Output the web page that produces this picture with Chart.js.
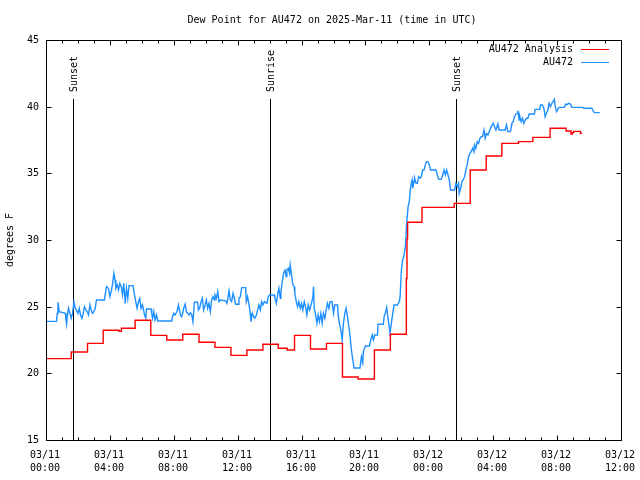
<!DOCTYPE html>
<html>
<head>
<meta charset="utf-8">
<title>Dew Point for AU472</title>
<script src="https://cdn.jsdelivr.net/npm/chart.js@4.4.1/dist/chart.umd.min.js"></script>
<style>
  html, body { margin: 0; padding: 0; background: #fff; }
  #wrap { width: 640px; height: 480px; }
</style>
</head>
<body>
<div id="wrap"><canvas id="dewChart" width="640" height="480"></canvas></div>
<script>
const chartTitle = "Dew Point for AU472 on 2025-Mar-11 (time in UTC)";
const yAxisLabel = "degrees F";

// x values are hours since 2025-03-11 00:00 UTC
const xTickHours = [0, 4, 8, 12, 16, 20, 24, 28, 32, 36];
const xTickDates = ["03/11", "03/11", "03/11", "03/11", "03/11", "03/11", "03/12", "03/12", "03/12", "03/12"];
const xTickTimes = ["00:00", "04:00", "08:00", "12:00", "16:00", "20:00", "00:00", "04:00", "08:00", "12:00"];
const yTickValues = [15, 20, 25, 30, 35, 40, 45];

const sunEventHours = [1.69, 14.02, 25.67];
const sunEventLabels = ["Sunset", "Sunrise", "Sunset"];

// hourly analysis (value holds from the given hour)
const analysisHours = [0, 1.58, 2.6, 3.58, 4.58, 4.72, 5.58, 6.56, 7.56, 8.56, 9.58, 10.58, 11.58, 12.58, 13.58,
  14.54, 15.1, 15.56, 16.56, 17.56, 18.56, 19.54, 20.56, 21.56, 22.56, 22.6, 22.64, 23.54, 25.56, 26.56,
  27.56, 28.54, 29.58, 30.48, 31.56, 32.56, 32.87, 32.95, 33.04, 33.46, 33.56];
const analysisValues = [21.1, 21.6, 22.25, 23.23, 23.15, 23.38, 23.98, 22.85, 22.5, 22.93, 22.33, 21.95, 21.35, 21.75, 22.18,
  21.88, 21.75, 22.85, 21.83, 22.25, 19.73, 19.58, 21.75, 22.93, 27.1, 30.1, 31.33, 32.45, 32.75, 35.25,
  36.3, 37.25, 37.38, 37.7, 38.38, 38.18, 37.95, 38.05, 38.15, 38.0, 38.0];

// station observations
const obsHours = [
  0, 0.66, 0.7, 0.75, 0.83, 1.21, 1.25, 1.29, 1.33, 1.41, 1.5, 1.58, 1.66, 1.75, 1.83, 1.91, 2.0, 2.08, 2.16, 2.25,
  2.33, 2.41, 2.5, 2.58, 2.66, 2.75, 2.83, 2.91, 3.0, 3.08, 3.16, 3.66, 3.7, 3.79, 3.91, 4.0, 4.08, 4.16, 4.25, 4.33,
  4.37, 4.46, 4.54, 4.62, 4.71, 4.79, 4.87, 4.96, 5.04, 5.12, 5.2, 5.45, 5.54, 5.62, 5.7, 5.79, 5.87, 5.95, 6.04, 6.17,
  6.25, 6.29, 6.58, 6.62, 6.67, 6.75, 6.83, 6.92, 7.0, 7.87, 7.92, 8.0, 8.08, 8.2, 8.29, 8.33, 8.42, 8.5, 8.54, 8.62,
  8.71, 8.79, 8.87, 8.96, 9.04, 9.12, 9.2, 9.25, 9.29, 9.5, 9.54, 9.62, 9.71, 9.79, 9.87, 9.96, 10.04, 10.12, 10.2, 10.29,
  10.37, 10.45, 10.54, 10.58, 10.67, 10.75, 10.83, 10.92, 11.25, 11.33, 11.46, 11.54, 11.62, 11.71, 11.79, 11.87, 12.04, 12.08, 12.17, 12.25,
  12.5, 12.54, 12.62, 12.71, 12.79, 12.83, 12.92, 13.0, 13.08, 13.17, 13.25, 13.33, 13.42, 13.5, 13.58, 13.67, 13.83, 13.92, 14.0, 14.29,
  14.33, 14.42, 14.5, 14.58, 14.67, 14.71, 14.79, 14.87, 14.96, 15.04, 15.08, 15.17, 15.25, 15.29, 15.37, 15.46, 15.54, 15.58, 15.67, 15.75,
  15.83, 15.92, 16.0, 16.08, 16.17, 16.25, 16.33, 16.42, 16.5, 16.62, 16.71, 16.75, 16.79, 16.87, 16.96, 17.04, 17.12, 17.21, 17.29, 17.37,
  17.46, 17.54, 17.62, 17.71, 17.79, 17.91, 18.0, 18.08, 18.25, 18.29, 18.37, 18.46, 18.54, 18.62, 18.71, 18.79, 18.87, 18.96, 19.04, 19.12,
  19.21, 19.29, 19.66, 19.75, 19.83, 19.87, 20.0, 20.25, 20.33, 20.42, 20.5, 20.58, 20.75, 20.79, 21.12, 21.17, 21.25, 21.33, 21.37, 21.46,
  21.54, 21.62, 21.71, 21.79, 22.0, 22.12, 22.17, 22.25, 22.33, 22.42, 22.5, 22.58, 22.67, 22.75, 22.79, 22.87, 22.92, 22.96, 23.04, 23.08,
  23.17, 23.25, 23.33, 23.42, 23.5, 23.58, 23.67, 23.75, 23.83, 23.92, 24.0, 24.08, 24.42, 24.5, 24.58, 24.75, 24.83, 24.92, 25.0, 25.08,
  25.17, 25.25, 25.33, 25.58, 25.67, 25.75, 25.83, 25.87, 25.96, 26.04, 26.12, 26.21, 26.29, 26.37, 26.46, 26.54, 26.62, 26.71, 26.79, 26.83,
  26.91, 27.0, 27.08, 27.17, 27.25, 27.33, 27.42, 27.5, 27.58, 27.67, 27.79, 27.87, 28.0, 28.08, 28.17, 28.29, 28.37, 28.75, 28.83, 28.92,
  29.08, 29.17, 29.25, 29.33, 29.42, 29.5, 29.54, 29.62, 29.66, 29.75, 29.83, 29.92, 30.0, 30.08, 30.17, 30.25, 30.58, 30.62, 30.92, 30.96,
  31.08, 31.17, 31.25, 31.33, 31.42, 31.5, 31.58, 31.67, 31.75, 31.83, 31.87, 31.96, 32.04, 32.12, 32.46, 32.54, 32.62, 32.71, 32.83, 32.92,
  33.62, 33.67, 34.17, 34.25, 34.33, 34.67
];
const obsValues = [
  23.9, 23.9, 24.5, 25.33, 24.63, 24.5, 24.0, 23.68, 24.25, 24.88, 24.5, 24.13, 24.5, 25.33, 24.88, 24.75, 24.5, 24.88, 24.38, 24.13,
  24.5, 25.0, 24.75, 24.63, 24.38, 25.13, 24.75, 24.5, 24.63, 24.88, 25.5, 25.5, 25.88, 26.5, 26.38, 25.75, 26.13, 26.63, 27.5, 27.0,
  26.38, 26.63, 26.25, 26.75, 26.5, 25.88, 26.75, 25.25, 26.38, 25.63, 26.58, 26.58, 25.88, 25.38, 24.88, 25.38, 25.63, 24.88, 25.13, 24.38,
  24.13, 24.83, 24.83, 24.5, 24.13, 24.63, 24.0, 24.38, 23.93, 23.93, 24.25, 24.5, 24.38, 24.63, 25.13, 24.88, 24.38, 24.25, 24.43, 24.88,
  25.18, 24.63, 24.5, 24.38, 24.55, 24.43, 23.88, 24.63, 25.33, 25.33, 24.75, 24.88, 25.38, 25.63, 24.75, 25.13, 25.5, 24.88, 25.25, 24.63,
  25.5, 25.75, 25.5, 25.88, 25.63, 26.13, 25.38, 25.5, 25.43, 25.25, 26.18, 25.5, 25.38, 26.0, 25.63, 25.18, 25.18, 25.63, 25.75, 26.43,
  26.43, 25.38, 25.75, 25.13, 24.5, 23.88, 24.5, 24.25, 24.13, 24.38, 24.75, 25.13, 24.75, 25.38, 25.13, 25.38, 25.25, 25.75, 25.88, 25.88,
  25.63, 25.25, 25.88, 26.38, 25.63, 26.13, 26.88, 27.5, 27.75, 27.25, 27.75, 27.88, 27.5, 28.13, 27.38, 26.63, 26.5, 26.0, 25.38, 25.0,
  25.38, 24.88, 25.25, 24.75, 25.38, 25.0, 24.38, 25.13, 24.75, 25.25, 25.75, 26.5, 24.88, 24.5, 23.75, 24.38, 23.88, 24.5, 23.75, 24.5,
  24.13, 24.75, 25.25, 24.88, 25.38, 25.38, 24.5, 25.13, 25.13, 24.38, 23.75, 23.25, 22.5, 23.75, 24.5, 24.88, 24.25, 23.5, 22.75, 21.75,
  21.0, 20.4, 20.4, 21.25, 20.8, 21.63, 22.05, 22.05, 22.5, 22.88, 22.5, 22.88, 22.88, 23.68, 23.68, 24.25, 24.55, 24.95, 24.5, 23.75,
  23.0, 23.75, 24.5, 25.13, 25.13, 25.38, 25.75, 27.75, 28.5, 28.88, 29.5, 31.25, 32.5, 32.88, 33.63, 34.25, 34.5, 33.88, 34.38, 34.63,
  34.25, 34.25, 34.75, 34.63, 34.75, 35.25, 35.25, 35.63, 35.88, 35.88, 35.63, 35.25, 35.25, 34.88, 34.55, 34.55, 34.88, 35.25, 34.88, 35.25,
  34.88, 34.5, 33.75, 33.75, 34.25, 34.0, 34.25, 33.5, 33.88, 34.38, 34.5, 34.75, 35.25, 35.63, 36.25, 36.5, 36.63, 36.88, 36.63, 37.13,
  36.88, 37.38, 37.25, 37.63, 37.75, 37.75, 38.25, 37.63, 38.0, 37.88, 38.25, 38.5, 38.75, 38.5, 38.25, 38.7, 38.25, 38.25, 38.63, 38.13,
  38.13, 38.75, 38.88, 39.25, 39.45, 39.5, 39.7, 39.0, 39.3, 38.88, 39.13, 38.75, 39.0, 39.13, 39.13, 39.45, 39.45, 39.8, 39.8, 40.13,
  40.13, 39.88, 39.25, 39.5, 39.75, 40.25, 40.0, 40.25, 40.38, 40.55, 40.13, 39.63, 39.8, 39.95, 39.95, 40.2, 40.13, 40.25, 40.2, 39.95,
  39.95, 39.88, 39.88, 39.7, 39.55, 39.55
];

const FONT = '10px "DejaVu Sans Mono", "Liberation Mono", monospace';

function toPoints(xs, ys) {
  return xs.map((h, i) => ({ x: h, y: ys[i] }));
}

function line(ctx, x1, y1, x2, y2) {
  ctx.beginPath();
  ctx.moveTo(x1, y1);
  ctx.lineTo(x2, y2);
  ctx.stroke();
}

// gnuplot style frame, tics, labels, sun markers and legend
const gnuplotDecor = {
  id: "gnuplotDecor",
  beforeDatasetsDraw(chart) {
    const { ctx, chartArea: a, scales: { x } } = chart;
    ctx.save();
    ctx.strokeStyle = "#000";
    ctx.fillStyle = "#000";
    ctx.lineWidth = 1;
    ctx.font = FONT;
    sunEventHours.forEach((h, i) => {
      const px = Math.round(x.getPixelForValue(h)) + 0.5;
      line(ctx, px, a.bottom, px, a.top + 59);
      ctx.save();
      ctx.translate(px + 1, a.top + 52);
      ctx.rotate(-Math.PI / 2);
      ctx.textAlign = "left";
      ctx.textBaseline = "middle";
      ctx.fillText(sunEventLabels[i], 0, 0);
      ctx.restore();
    });
    ctx.restore();
  },
  afterDatasetsDraw(chart) {
    const { ctx, chartArea: a, scales: { x, y } } = chart;
    const left = Math.round(a.left) + 0.5;
    const right = Math.round(a.right) + 0.5;
    const top = Math.round(a.top) + 0.5;
    const bottom = Math.round(a.bottom) + 0.5;
    ctx.save();
    ctx.strokeStyle = "#000";
    ctx.fillStyle = "#000";
    ctx.lineWidth = 1;
    ctx.font = FONT;
    ctx.strokeRect(left, top, right - left, bottom - top);

    // hourly minor tics, major every 4 hours
    for (let h = xTickHours[0]; h <= xTickHours[xTickHours.length - 1]; h++) {
      const px = Math.round(x.getPixelForValue(h)) + 0.5;
      const len = xTickHours.includes(h) ? 5 : 3;
      line(ctx, px, bottom, px, bottom - len);
      line(ctx, px, top, px, top + len);
    }
    ctx.textAlign = "center";
    ctx.textBaseline = "middle";
    xTickHours.forEach((h, i) => {
      const px = Math.round(x.getPixelForValue(h));
      ctx.fillText(xTickDates[i], px - 1, a.bottom + 15);
      ctx.fillText(xTickTimes[i], px - 1, a.bottom + 28);
    });

    ctx.textAlign = "right";
    yTickValues.forEach(v => {
      const py = Math.round(y.getPixelForValue(v)) + 0.5;
      line(ctx, left, py, left + 5, py);
      line(ctx, right, py, right - 5, py);
      ctx.fillText(String(v), a.left - 7, py);
    });

    // title and y axis label
    ctx.textAlign = "center";
    ctx.fillText(chartTitle, 332, 20);
    ctx.save();
    ctx.translate(10, (a.top + a.bottom) / 2);
    ctx.rotate(-Math.PI / 2);
    ctx.fillText(yAxisLabel, 0, 0);
    ctx.restore();

    // key, top right inside the plot
    ctx.textAlign = "right";
    chart.data.datasets.forEach((ds, i) => {
      const ky = a.top + 9.5 + i * 13;
      ctx.fillStyle = "#000";
      ctx.fillText(ds.label, a.right - 48, ky);
      ctx.strokeStyle = ds.borderColor;
      line(ctx, a.right - 40, ky, a.right - 12, ky);
    });
    ctx.restore();
  }
};

new Chart(document.getElementById("dewChart"), {
  type: "line",
  data: {
    datasets: [
      {
        label: "AU472 Analysis",
        data: toPoints(analysisHours, analysisValues),
        borderColor: "#ff0000",
        borderWidth: 1.4,
        pointRadius: 0,
        stepped: true,
        fill: false
      },
      {
        label: "AU472",
        data: toPoints(obsHours, obsValues),
        borderColor: "#1e90ff",
        borderWidth: 1.4,
        pointRadius: 0,
        tension: 0,
        fill: false
      }
    ]
  },
  options: {
    responsive: false,
    animation: false,
    events: [],
    layout: { padding: { left: 46, right: 19, top: 40, bottom: 40 } },
    plugins: {
      legend: { display: false },
      title: { display: false },
      tooltip: { enabled: false }
    },
    scales: {
      x: {
        type: "linear",
        min: 0,
        max: 36,
        ticks: { display: false, stepSize: 4 },
        grid: { display: false, drawTicks: false },
        border: { display: false }
      },
      y: {
        min: 15,
        max: 45,
        ticks: { display: false, stepSize: 5 },
        grid: { display: false, drawTicks: false },
        border: { display: false }
      }
    }
  },
  plugins: [gnuplotDecor]
});
</script>
</body>
</html>
